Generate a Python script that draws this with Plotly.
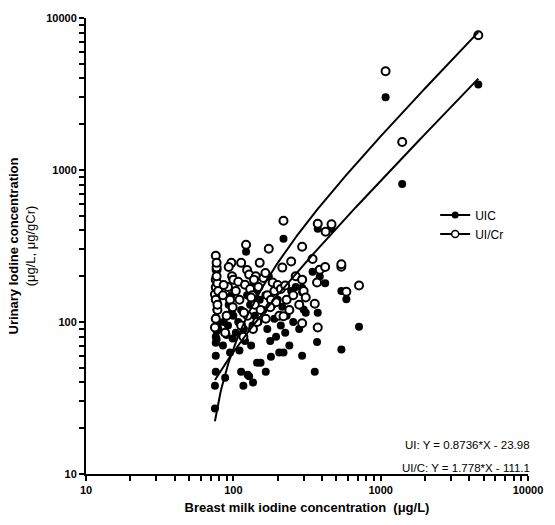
import plotly.graph_objects as go
import numpy as np

# Breast milk iodine (ug/L) per subject, with matching UIC (ug/L) and UI/Cr (ug/gCr)
bmic = [75, 75, 76, 76, 77, 77, 76, 77, 78, 76, 78, 76, 79, 77, 78,
        88, 85, 90, 92, 95, 97, 98, 100, 93, 86, 99,
        104, 108, 113, 113, 117, 120, 122, 124, 125, 128, 130, 135, 136, 140, 142, 145, 148, 151, 153, 110, 118, 132, 138,
        160, 166, 170, 174, 180, 185, 190, 195, 200, 205, 210, 215, 219, 219, 225, 230, 240, 247, 165, 178, 255,
        265, 280, 293, 293, 293, 300, 310, 345, 357, 370, 374, 386, 374, 423, 464, 420,
        541, 585, 713, 541,
        1080, 1400, 4600]
uic = [27, 38, 47, 73, 77, 87, 107, 121, 136, 80, 95, 60, 90, 145, 100,
       43, 70, 82, 95, 63, 150, 120, 110, 130, 100, 78,
       85, 100, 47, 120, 38, 75, 290, 150, 45, 44, 130, 95, 40, 110, 160, 54, 100, 140, 54, 65, 90, 70, 180,
       120, 47, 90, 200, 59, 130, 105, 80, 140, 63, 95, 126, 353, 63, 85, 110, 70, 160, 150, 75, 100,
       170, 90, 168, 157, 60, 121, 115, 214, 47, 74, 115, 199, 410, 230, 410, 180,
       66, 141, 93, 160,
       3010, 809, 3650]
uicr = [92, 152, 169, 190, 221, 228, 273, 245, 180, 140, 120, 105, 160, 200, 130,
        85, 150, 110, 170, 140, 245, 200, 190, 230, 175, 125,
        160, 184, 95, 245, 80, 176, 322, 220, 110, 205, 165, 150, 90, 130, 200, 100, 170, 245, 120, 140, 115, 145, 190,
        195, 105, 150, 303, 140, 182, 160, 135, 175, 110, 165, 228, 463, 109, 174, 140, 120, 250, 210, 125, 150,
        200, 130, 313, 190, 98, 160, 145, 260, 132, 182, 92, 221, 443, 392, 440, 230,
        231, 158, 174, 240,
        4460, 1530, 7700]

# Linear regression fits shown on the chart
ui_slope, ui_intercept = 0.8736, -23.98
uicr_slope, uicr_intercept = 1.778, -111.1

major_ticks = [10, 100, 1000, 10000]
major_text = ["10", "100", "1000", "10000"]
minor_ticks = [m * d for d in (10, 100, 1000) for m in range(2, 10)]

xfit = np.logspace(np.log10(min(bmic)), np.log10(max(bmic)), 200)

FONT = "Liberation Sans, Arial"

fig = go.Figure()
fig.add_trace(go.Scatter(x=bmic, y=uic, mode="markers", name="UIC", showlegend=False,
                         marker=dict(symbol="circle", size=8, color="black")))
fig.add_trace(go.Scatter(x=bmic, y=uicr, mode="markers", name="UI/Cr", showlegend=False,
                         marker=dict(symbol="circle", size=8, color="white",
                                     line=dict(color="black", width=2))))
fig.add_trace(go.Scatter(x=xfit, y=ui_slope * xfit + ui_intercept, mode="lines", showlegend=False,
                         line=dict(color="black", width=2)))
fig.add_trace(go.Scatter(x=xfit, y=uicr_slope * xfit + uicr_intercept, mode="lines", showlegend=False,
                         line=dict(color="black", width=2)))
# legend entries
fig.add_trace(go.Scatter(x=[None], y=[None], mode="lines+markers", name="UIC",
                         line=dict(color="black", width=2),
                         marker=dict(symbol="circle", size=7, color="black")))
fig.add_trace(go.Scatter(x=[None], y=[None], mode="lines+markers", name="UI/Cr",
                         line=dict(color="black", width=2),
                         marker=dict(symbol="circle", size=7, color="white",
                                     line=dict(color="black", width=1.5))))

axis_common = dict(type="log", range=[1, 4], showgrid=False, zeroline=False, showline=True,
                   linecolor="black", linewidth=2, ticks="outside", ticklen=5,
                   tickwidth=2, tickcolor="black",
                   tickfont=dict(family=FONT, size=11, color="black", weight="bold"),
                   tickmode="array", tickvals=major_ticks + minor_ticks,
                   ticktext=major_text + [""] * len(minor_ticks))

fig.update_layout(
    xaxis=dict(**axis_common,
               title=dict(text="<b>Breast milk iodine concentration  (μg/L)</b>",
                          font=dict(family=FONT, size=13, color="black"), standoff=8)),
    yaxis=dict(**axis_common,
               title=dict(text="<b>Urinary Iodine concentration</b><br>(μg/L, μg/gCr)",
                          font=dict(family=FONT, size=13, color="black"), standoff=8)),
)

fig.add_annotation(x=1.01, y=0.045, xref="paper", yref="paper", xanchor="right", yanchor="bottom",
                   text="UI: Y = 0.8736*X - 23.98", showarrow=False,
                   font=dict(family=FONT, size=11.5, color="black"), align="left")
fig.add_annotation(x=1.01, y=-0.005, xref="paper", yref="paper", xanchor="right", yanchor="bottom",
                   text="UI/C: Y = 1.778*X - 111.1", showarrow=False,
                   font=dict(family=FONT, size=11.5, color="black"), align="left")

fig.update_layout(width=555, height=525, plot_bgcolor="white", paper_bgcolor="white",
                  margin=dict(l=82, r=23, t=18, b=50),
                  legend=dict(x=0.79, y=0.6, xanchor="left", yanchor="top",
                              bgcolor="rgba(0,0,0,0)", itemwidth=30,
                              font=dict(family=FONT, size=12, color="black"),
                              tracegroupgap=0))

fig.write_html("out.html")
